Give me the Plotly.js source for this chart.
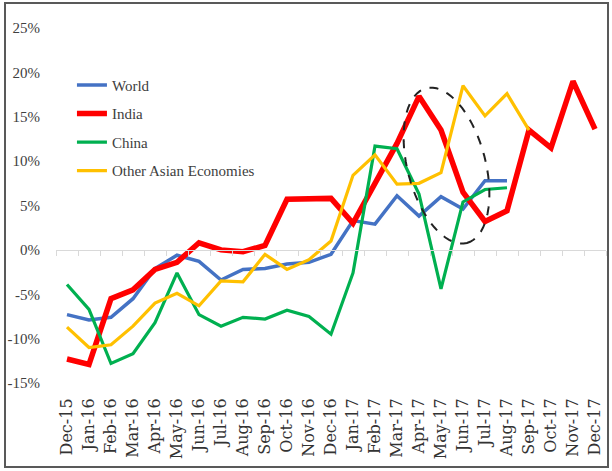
<!DOCTYPE html>
<html><head><meta charset="utf-8">
<script src="https://cdn.plot.ly/plotly-3.0.1.min.js"></script>
<style>
html,body{margin:0;padding:0;background:#fff;}
#chart{position:absolute;left:0;top:0;width:612px;height:471px;}
#frame{position:absolute;left:4px;top:2px;width:601px;height:462px;border:2px solid #595959;pointer-events:none;}
</style></head><body>
<div id="chart"></div><div id="frame"></div>
<script>
const months = ['Dec-15','Jan-16','Feb-16','Mar-16','Apr-16','May-16','Jun-16','Jul-16','Aug-16','Sep-16','Oct-16','Nov-16','Dec-16','Jan-17','Feb-17','Mar-17','Apr-17','May-17','Jun-17','Jul-17','Aug-17','Sep-17','Oct-17','Nov-17','Dec-17'];
const world = [-7.3,-7.9,-7.6,-5.5,-2.1,-0.6,-1.3,-3.4,-2.2,-2.1,-1.6,-1.4,-0.5,3.3,2.9,6.1,3.8,6.0,4.6,7.8,7.8,null,null,null,null];
const india = [-12.3,-12.9,-5.5,-4.5,-2.2,-1.4,0.8,0.0,-0.2,0.5,5.7,5.7,5.8,3.0,7.5,12.0,17.3,13.5,6.5,3.2,4.4,13.5,11.5,19.0,13.6];
const china = [-3.9,-6.7,-12.8,-11.7,-8.2,-2.6,-7.3,-8.6,-7.6,-7.8,-6.8,-7.5,-9.5,-2.6,11.7,11.4,6.3,-4.4,5.4,6.8,7.0,null,null,null,null];
const otherAsia = [-8.7,-11.0,-10.7,-8.6,-6.0,-4.9,-6.3,-3.5,-3.6,-0.5,-2.2,-1.1,1.0,8.4,10.7,7.4,7.5,8.7,18.5,15.1,17.6,13.5,null,null,null];
const seriesNames = ['World','India','China','Other Asian Economies'];
const yTickVals = [-15,-10,-5,0,5,10,15,20,25];
const yTickText = ['-15%','-10%','-5%','0%','5%','10%','15%','20%','25%'];

const styles = [
  {color:'#4472C4', width:3.5},
  {color:'#FF0000', width:5.5},
  {color:'#00B050', width:3.2},
  {color:'#FFC000', width:3.2}
];
const values = [world, india, china, otherAsia];
const traces = values.map((v,i)=>({
  type:'scatter', mode:'lines', x:months, y:v, name:seriesNames[i],
  legendgroup:'g'+i, line:{color:styles[i].color, width:styles[i].width},
  hoverinfo:'skip', connectgaps:false
}));
traces.push({type:'scatter', mode:'lines', x:months, y:months.map(()=>null), xaxis:'x2', showlegend:false, hoverinfo:'skip'});

// dashed ellipse annotation (tilted), geometry in data units via pixel scales
const pxCat = 22, pxPct = 8.875;
const cI = 17.25, cV = 9.5, a = 80, b = 39, th = 14.8*Math.PI/180;
let path = '';
for (let k=0;k<=72;k++){
  const t = k/72*2*Math.PI;
  const dx = a*Math.cos(t)*Math.sin(th) + b*Math.sin(t)*Math.cos(th);
  const dy = a*Math.cos(t)*Math.cos(th) - b*Math.sin(t)*Math.sin(th);
  const x = cI + dx/pxCat, y = cV - dy/pxPct;
  path += (k===0?'M':'L') + x.toFixed(4) + ',' + y.toFixed(4);
}
path += 'Z';

const layout = {
  width:612, height:471,
  margin:{l:56, r:6, t:28, b:88},
  paper_bgcolor:'#fff', plot_bgcolor:'#fff',
  showlegend:true,
  legend:{x:0.029, y:0.885, xanchor:'left', yanchor:'top', bgcolor:'rgba(0,0,0,0)',
    font:{family:'Liberation Serif', size:15, color:'#404040'}, tracegroupgap:6, itemwidth:30},
  xaxis:{type:'category', categoryarray:months, categoryorder:'array', range:[-0.5,24.5],
    showline:false, showgrid:false, zeroline:false, ticks:'outside', ticklen:8, tickcolor:'rgba(0,0,0,0)',
    tickangle:-90, tickfont:{family:'DejaVu Serif', size:16, color:'#333'}, fixedrange:true},
  xaxis2:{type:'category', categoryarray:months, categoryorder:'array', range:[-0.5,24.5],
    overlaying:'x', anchor:'free', position:0.375, side:'bottom',
    showline:true, linecolor:'#d9d9d9', linewidth:1, ticks:'outside', tickson:'boundaries',
    ticklen:5, tickcolor:'#d9d9d9', showticklabels:false, showgrid:false, zeroline:false},
  yaxis:{range:[-15,25], tickvals:yTickVals, ticktext:yTickText, showgrid:false, zeroline:false,
    showline:false, ticks:'outside', ticklen:12, tickcolor:'rgba(0,0,0,0)',
    tickfont:{family:'Liberation Serif', size:15, color:'#404040'}, fixedrange:true},
  shapes:[{type:'path', xref:'x', yref:'y', path:path, layer:'above',
    line:{color:'#222', width:2, dash:'dash'}, fillcolor:'rgba(0,0,0,0)'}]
};
Plotly.newPlot('chart', traces, layout, {staticPlot:true, displayModeBar:false});
</script></body></html>
